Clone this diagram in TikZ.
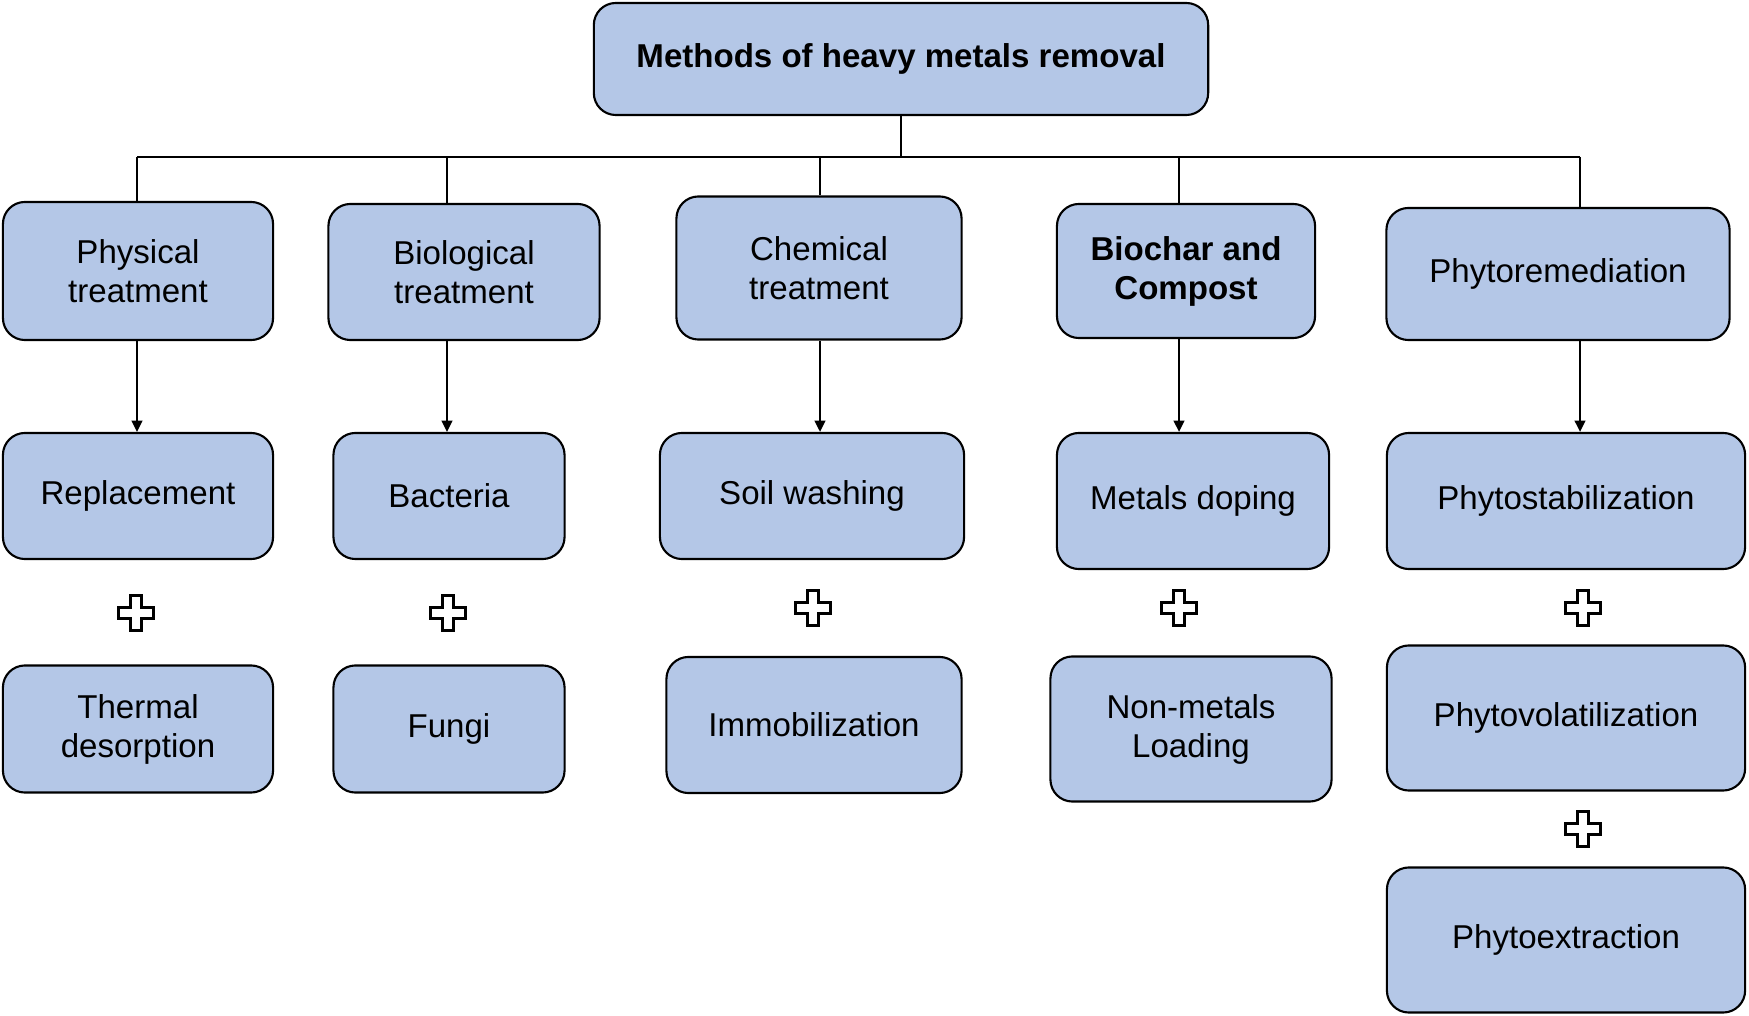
\documentclass[tikz,border=0pt]{standalone}
\usepackage{fontspec}
\setmainfont{Liberation Sans}
\usetikzlibrary{arrows.meta,positioning}
\definecolor{boxFill}{RGB}{180,199,231}
\definecolor{lineDark}{RGB}{0,0,0}
\tikzset{
  methodbox/.style={draw=lineDark,fill=boxFill,line width=0.6pt,rounded corners=0.22cm,
    align=center,inner sep=2pt,font=\fontsize{9.4}{11.1}\selectfont},
  busline/.style={draw=lineDark,line width=0.6pt},
  downarrow/.style={busline,-{Triangle[width=3pt,length=3.2pt]}},
  plusline/.style={draw=lineDark,fill=white,line width=0.75pt}
}
\newcommand{\methodnode}[6]{\node[methodbox,minimum width=#4cm,minimum height=#5cm] (#1) at (#2,#3) {#6};}
\newcommand{\plusmark}[1]{\draw[plusline] #1 ++(-5.5,-17.5) -- ++(11,0) -- ++(0,12) -- ++(12,0) -- ++(0,11) -- ++(-12,0) -- ++(0,12) -- ++(-11,0) -- ++(0,-12) -- ++(-12,0) -- ++(0,-11) -- ++(12,0) -- cycle;}

\begin{document}
\begin{tikzpicture}[x=0.01cm,y=-0.01cm]
	\useasboundingbox (0,0) rectangle (1749,1016);
	% root
	\methodnode{top}{901}{59}{6.14}{1.12}{\textbf{Methods of heavy metals removal}}
	% first level
	\methodnode{phys}{138}{271}{2.70}{1.38}{Physical\\treatment}
	\methodnode{bio}{464}{272}{2.71}{1.36}{Biological\\treatment}
	\methodnode{chem}{819}{268}{2.85}{1.43}{Chemical\\treatment}
	\methodnode{char}{1186}{271}{2.58}{1.34}{\textbf{Biochar and}\\\textbf{Compost}}
	\methodnode{phyto}{1558}{274}{3.43}{1.32}{Phytoremediation}
	% second level
	\methodnode{repl}{138}{496}{2.70}{1.26}{Replacement}
	\methodnode{bact}{449}{496}{2.31}{1.26}{Bacteria}
	\methodnode{soil}{812}{496}{3.04}{1.26}{Soil washing}
	\methodnode{dop}{1193}{501}{2.72}{1.36}{Metals doping}
	\methodnode{stab}{1566}{501}{3.58}{1.36}{Phytostabilization}
	% third level
	\methodnode{therm}{138}{729}{2.70}{1.27}{Thermal\\desorption}
	\methodnode{fungi}{449}{729}{2.31}{1.27}{Fungi}
	\methodnode{immob}{814}{725}{2.95}{1.36}{Immobilization}
	\methodnode{nonm}{1191}{729}{2.81}{1.45}{Non-metals\\Loading}
	\methodnode{vol}{1566}{718}{3.58}{1.45}{Phytovolatilization}
	\methodnode{ext}{1566}{940}{3.58}{1.45}{Phytoextraction}
	% bus
	\coordinate (b1) at (137,157);
	\coordinate (b2) at (447,157);
	\coordinate (b3) at (820,157);
	\coordinate (b4) at (1179,157);
	\coordinate (b5) at (1580,157);
	\draw[busline] (b1) -- (b5);
	\draw[busline] (top.south) -- (top.south |- b1);
	\draw[busline] (b1) -- (b1 |- phys.north);
	\draw[busline] (b2) -- (b2 |- bio.north);
	\draw[busline] (b3) -- (b3 |- chem.north);
	\draw[busline] (b4) -- (b4 |- char.north);
	\draw[busline] (b5) -- (b5 |- phyto.north);
	% arrows
	\draw[downarrow] (phys.south -| b1) -- (repl.north -| b1);
	\draw[downarrow] (bio.south -| b2) -- (bact.north -| b2);
	\draw[downarrow] (chem.south -| b3) -- (soil.north -| b3);
	\draw[downarrow] (char.south -| b4) -- (dop.north -| b4);
	\draw[downarrow] (phyto.south -| b5) -- (stab.north -| b5);
	% plus signs
	\plusmark{(136,613)} \plusmark{(448,613)} \plusmark{(813,608)}
	\plusmark{(1179,608)} \plusmark{(1583,608)} \plusmark{(1583,829)}
\end{tikzpicture}
\end{document}
